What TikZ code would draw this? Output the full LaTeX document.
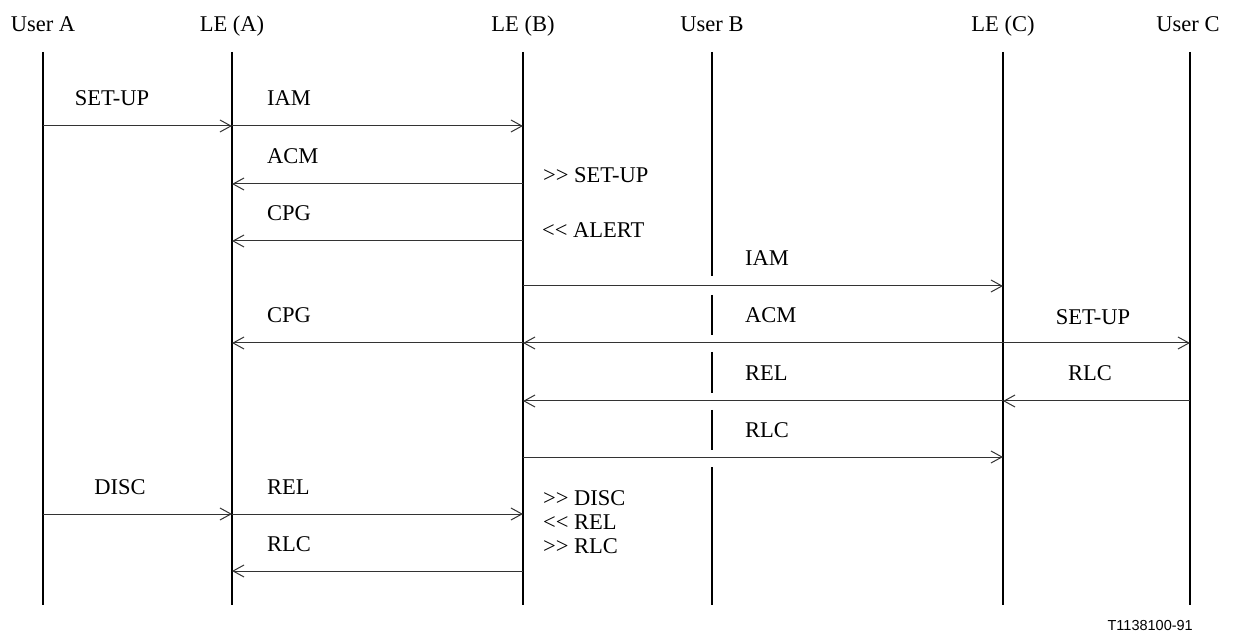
\documentclass[tikz,border=0pt]{standalone}
\usepackage{fontspec}
\setmainfont{Liberation Serif}
\newfontfamily\arialf{Liberation Sans}
\usetikzlibrary{arrows.meta,calc}
\begin{document}
\begin{tikzpicture}[x=1pt,y=-1pt,
  txt/.style={inner sep=0pt,font=\fontsize{22.5}{27}\selectfont},
  hdr/.style={txt,anchor=base},
  lbl/.style={txt,anchor=base west},
  lblc/.style={txt,anchor=base},
  life/.style={line width=2pt},
  msg/.style={line width=1pt,black!80,-{Straight Barb[length=11pt,width=12pt,line width=1pt]}}]
\useasboundingbox (0,0) rectangle (1235,636);
% lifeline heads
\node[hdr] (hA)  at (43,32)   {User A};
\node[hdr] (hLA) at (232,32)  {LE (A)};
\node[hdr] (hLB) at (523,32)  {LE (B)};
\node[hdr] (hB)  at (712,32)  {User B};
\node[hdr] (hLC) at (1003,32) {LE (C)};
\node[hdr] (hC)  at (1188,32) {User C};
% lifeline tops
\coordinate (ua)  at (43,52);
\coordinate (lea) at (232,52);
\coordinate (leb) at (523,52);
\coordinate (ub)  at (712,52);
\coordinate (lec) at (1003,52);
\coordinate (uc)  at (1190,52);
\coordinate (bot) at (0,605);
% rows
\coordinate (r1) at (0,126);
\coordinate (r2) at (0,184);
\coordinate (r3) at (0,241);
\coordinate (r4) at (0,286);
\coordinate (r5) at (0,343);
\coordinate (r6) at (0,401);
\coordinate (r7) at (0,457);
\coordinate (r8) at (0,514);
\coordinate (r9) at (0,571);
% lifelines
\draw[life] (ua)  -- (ua |- bot);
\draw[life] (lea) -- (lea |- bot);
\draw[life] (leb) -- (leb |- bot);
\draw[life] (lec) -- (lec |- bot);
\draw[life] (uc)  -- (uc |- bot);
\draw[life] (ub) -- (712,276);
\draw[life] (712,295) -- (712,335);
\draw[life] (712,352) -- (712,393);
\draw[life] (712,410) -- (712,450);
\draw[life] (712,467) -- (ub |- bot);
% messages
\draw[msg] (ua |- r1) -- (lea |- r1);
\draw[msg] (lea |- r1) -- (leb |- r1);
\draw[msg] (leb |- r2) -- (lea |- r2);
\draw[msg] (leb |- r3) -- (lea |- r3);
\draw[msg] (leb |- r4) -- (lec |- r4);
\draw[msg] (leb |- r5) -- (lea |- r5);
\draw[msg] (lec |- r5) -- (leb |- r5);
\draw[msg] (lec |- r5) -- (uc |- r5);
\draw[msg] (lec |- r6) -- (leb |- r6);
\draw[msg] (uc |- r6) -- (lec |- r6);
\draw[msg] (leb |- r7) -- (lec |- r7);
\draw[msg] (ua |- r8) -- (lea |- r8);
\draw[msg] (lea |- r8) -- (leb |- r8);
\draw[msg] (leb |- r9) -- (lea |- r9);
% labels
\node[lblc] (l1)  at (112,106) {SET-UP};
\node[lbl]  (l2)  at (267,106) {IAM};
\node[lbl]  (l3)  at (267,164) {ACM};
\node[lbl]  (l4)  at (543,183) {>{}> SET-UP};
\node[lbl]  (l5)  at (267,221) {CPG};
\node[lbl]  (l6)  at (542,238) {<{}< ALERT};
\node[lbl]  (l7)  at (745,266) {IAM};
\node[lbl]  (l8)  at (267,323) {CPG};
\node[lbl]  (l9)  at (745,323) {ACM};
\node[lblc] (l10) at (1093,325) {SET-UP};
\node[lbl]  (l11) at (745,381) {REL};
\node[lblc] (l12) at (1090,381) {RLC};
\node[lbl]  (l13) at (745,437) {RLC};
\node[lblc] (l14) at (120,494) {DISC};
\node[lbl]  (l15) at (267,494) {REL};
\node[lbl]  (l16) at (267,551) {RLC};
\node[lbl]  (l17) at (543,505) {>{}> DISC};
\node[lbl]  (l18) at (543,529) {<{}< REL};
\node[lbl]  (l19) at (543,553) {>{}> RLC};
\node[inner sep=0pt,anchor=base east,font=\arialf\fontsize{14.5}{17}\selectfont] (fig) at (1193,630) {T1138100-91};
\end{tikzpicture}
\end{document}
